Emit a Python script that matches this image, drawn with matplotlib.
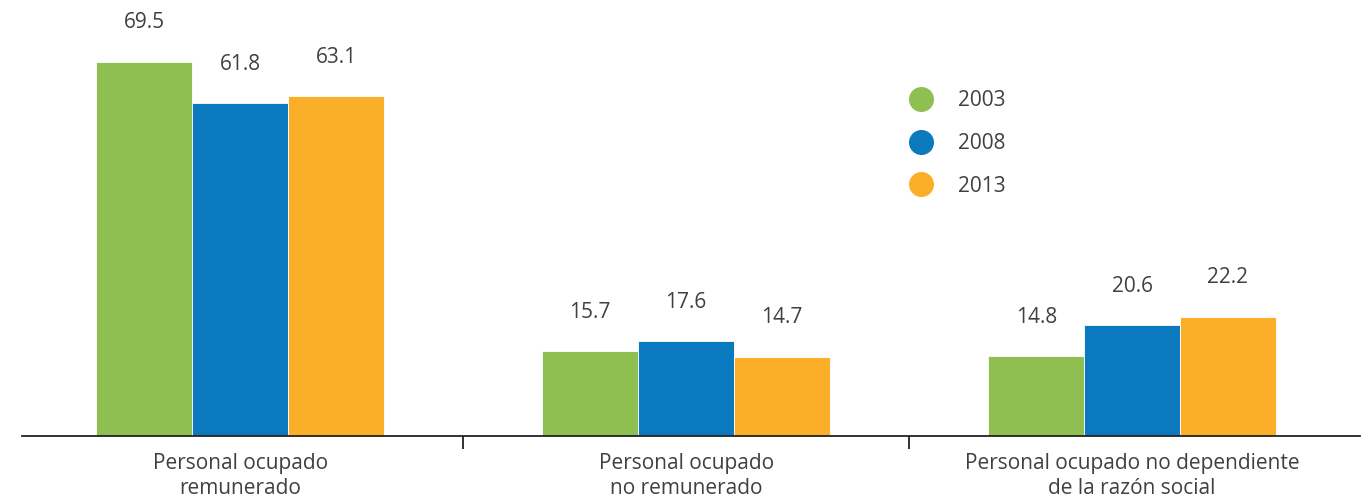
import matplotlib.pyplot as plt
import numpy as np
from matplotlib.lines import Line2D

plt.rcParams['font.family'] = ['Open Sans', 'DejaVu Sans']

#%% data
categories = ['Personal ocupado\nremunerado',
              'Personal ocupado\nno remunerado',
              'Personal ocupado no dependiente\nde la razón social']
years = ['2003', '2008', '2013']
v2003 = [69.5, 15.7, 14.8]
v2008 = [61.8, 17.6, 20.6]
v2013 = [63.1, 14.7, 22.2]
colors = ['#8fbf50', '#0a79be', '#fbaf29']
txt = '#404040'

#%% plot
fig = plt.figure(figsize=(13.67, 4.98), dpi=100)
ax = fig.add_axes([22/1367, 1-436/498, (1360-22)/1367, 436/498])

x = np.arange(len(categories))
w = 0.215
for k, (vals, c) in enumerate(zip([v2003, v2008, v2013], colors)):
    xs = x + (k-1)*w
    ax.bar(xs, vals, width=w, color=c, edgecolor='white', linewidth=0.6, zorder=2)
    for xi, v in zip(xs, vals):
        ax.text(xi, v + 5.3, f'{v:.1f}', ha='center', va='bottom', fontsize=15, color=txt)

ax.set_xlim(-0.489, 2.511)
ax.set_ylim(0, 81)
for s in ['top', 'right', 'left']:
    ax.spines[s].set_visible(False)
ax.spines['bottom'].set_color('#222222')
ax.spines['bottom'].set_linewidth(1.3)
ax.set_yticks([])
ax.set_xticks([0.5, 1.5])
ax.set_xticklabels([])
ax.tick_params(axis='x', length=9, width=1.3, color='#222222', direction='out')
for xi, lab in zip(x, categories):
    ax.text(xi, -3.1, lab, ha='center', va='top', fontsize=15, color=txt,
            linespacing=1.3, transform=ax.transData, clip_on=False)

handles = [Line2D([], [], marker='o', linestyle='none', markersize=17,
                  markerfacecolor=c, markeredgecolor=c) for c in colors]
leg = ax.legend(handles, years, loc='upper left', bbox_to_anchor=(0.642, 0.836),
                frameon=False, fontsize=15, labelspacing=1.04, handletextpad=0.8,
                labelcolor=txt)

fig.savefig('out.png', dpi=100)
